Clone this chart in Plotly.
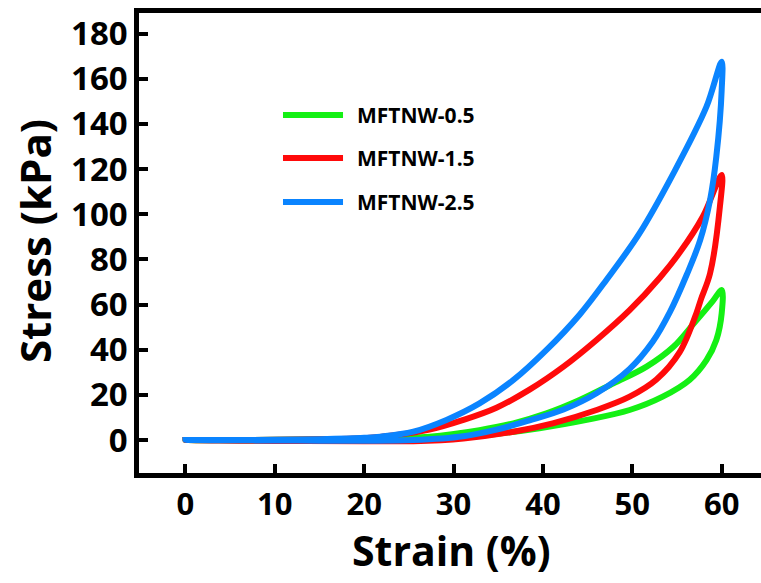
import plotly.graph_objects as go

# ---- data ----
names = ["MFTNW-0.5", "MFTNW-1.5", "MFTNW-2.5"]
colors = ["#14F014", "#FF0A0A", "#0A84FF"]

# MFTNW-0.5 (green)
g_load_x = [0, 5, 10, 15, 20, 27.3, 32.9, 36.7, 40.4, 44.1, 47.9, 51.6, 54.6, 56.8, 59, 60]
g_load_y = [0, 0, 0.1, 0.3, 0.6, 1.5, 4.4, 7.4, 11.8, 17.7, 25.1, 32.5, 41.3, 51.2, 61.5, 66.4]
g_unld_x = [60, 59.4, 58.3, 56.4, 53.4, 49.7, 44.9, 39.6, 34.8, 29.2, 20, 10, 0]
g_unld_y = [56.1, 44.3, 35.4, 26.6, 19.2, 13.3, 8.9, 5.2, 2.7, 0.7, 0, -0.2, 0]

# MFTNW-1.5 (red)
r_load_x = [0, 5, 10, 15, 20, 23.6, 27.3, 31.1, 34.8, 38.5, 42.3, 46, 49.7, 53.1, 55.3, 57.9, 60]
r_load_y = [0, 0, 0.1, 0.3, 0.8, 2.2, 4.6, 8.9, 14.3, 22.3, 32.5, 44.3, 57.5, 72, 83, 99, 117.4]
r_unld_x = [59.8, 58.7, 57.7, 57.2, 55.3, 52.7, 49.7, 46, 41.1, 36.7, 31.1, 25.5, 20, 10, 0]
r_unld_y = [103.3, 73.8, 62.5, 56.5, 38.9, 26.8, 19.2, 13.3, 7.4, 3.7, 0.7, -0.5, -0.5, -0.4, 0]

# MFTNW-2.5 (blue)
b_load_x = [0, 5, 10, 15, 20, 21.8, 25.5, 29.2, 32.9, 36.7, 40.4, 44.1, 47.1, 50.8, 54.6, 58.3, 60]
b_load_y = [0, 0, 0.1, 0.4, 1.0, 1.5, 3.7, 8.9, 16.2, 26.6, 39.9, 55.5, 70.9, 91.5, 118.1, 147.6, 167.5]
b_unld_x = [60, 59.4, 58.7, 57.6, 56.1, 54.2, 52.3, 49.7, 46, 42.3, 38.5, 34.8, 31.1, 25.5, 20, 15, 10, 5, 0]
b_unld_y = [155, 125.5, 106.3, 88.6, 73.3, 56.6, 43.6, 31.5, 20.7, 13.5, 8.7, 4.6, 1.7, 0, -0.3, -0.3, -0.2, -0.1, 0]

x_ticks = [0, 10, 20, 30, 40, 50, 60]
y_ticks = [0, 20, 40, 60, 80, 100, 120, 140, 160, 180]

loops = [
    (g_load_x + g_unld_x, g_load_y + g_unld_y),
    (r_load_x + r_unld_x, r_load_y + r_unld_y),
    (b_load_x + b_unld_x, b_load_y + b_unld_y),
]

FONT = "Open Sans"

fig = go.Figure()
for (xs, ys), nm, col in zip(loops, names, colors):
    fig.add_trace(go.Scatter(
        x=xs, y=ys, mode="lines", name=nm,
        line=dict(color=col, width=6, shape="spline", smoothing=1.0),
        showlegend=False,
    ))

# manual legend (longer line samples like the reference)
leg_y = [0.778, 0.685, 0.589]
for nm, col, yy in zip(names, colors, leg_y):
    fig.add_shape(type="line", xref="paper", yref="paper",
                  x0=0.2315, x1=0.328, y0=yy, y1=yy,
                  line=dict(color=col, width=6))
    fig.add_annotation(xref="paper", yref="paper", x=0.348, y=yy,
                       xanchor="left", yanchor="middle", showarrow=False,
                       text=nm, font=dict(family=FONT, size=21, color="black", weight="bold"))

# axis titles placed as annotations
fig.add_annotation(xref="paper", yref="paper", x=0.503, y=-0.168,
                   xanchor="center", yanchor="middle", showarrow=False,
                   text="Strain (%)", font=dict(family=FONT, size=41, color="black", weight="bold"))
fig.add_annotation(xref="paper", yref="paper", x=-0.168, y=0.503,
                   xanchor="center", yanchor="middle", showarrow=False, textangle=-90,
                   text="Stress (kPa)", font=dict(family=FONT, size=42, color="black", weight="bold"))

fig.update_layout(
    width=761, height=583,
    margin=dict(l=139, r=0, t=13, b=110),
    paper_bgcolor="white", plot_bgcolor="white",
    font=dict(family=FONT, color="black", weight="bold"),
    xaxis=dict(
        range=[-5.2, 64.4], tickvals=x_ticks, ticktext=[str(v) for v in x_ticks],
        ticks="inside", ticklen=9, tickwidth=4, tickcolor="black",
        showline=True, linewidth=4.5, linecolor="black", mirror=True,
        showgrid=False, zeroline=False,
        tickfont=dict(family=FONT, size=31, weight="bold"),
        ticklabelstandoff=0,
    ),
    yaxis=dict(
        range=[-14.6, 189.1], tickvals=y_ticks, ticktext=[str(v) for v in y_ticks],
        ticks="inside", ticklen=9, tickwidth=4, tickcolor="black",
        showline=True, linewidth=4.5, linecolor="black", mirror=False,
        showgrid=False, zeroline=False,
        tickfont=dict(family=FONT, size=33, weight="bold"),
        ticklabelstandoff=0,
    ),
)

fig.write_html("out.html")
